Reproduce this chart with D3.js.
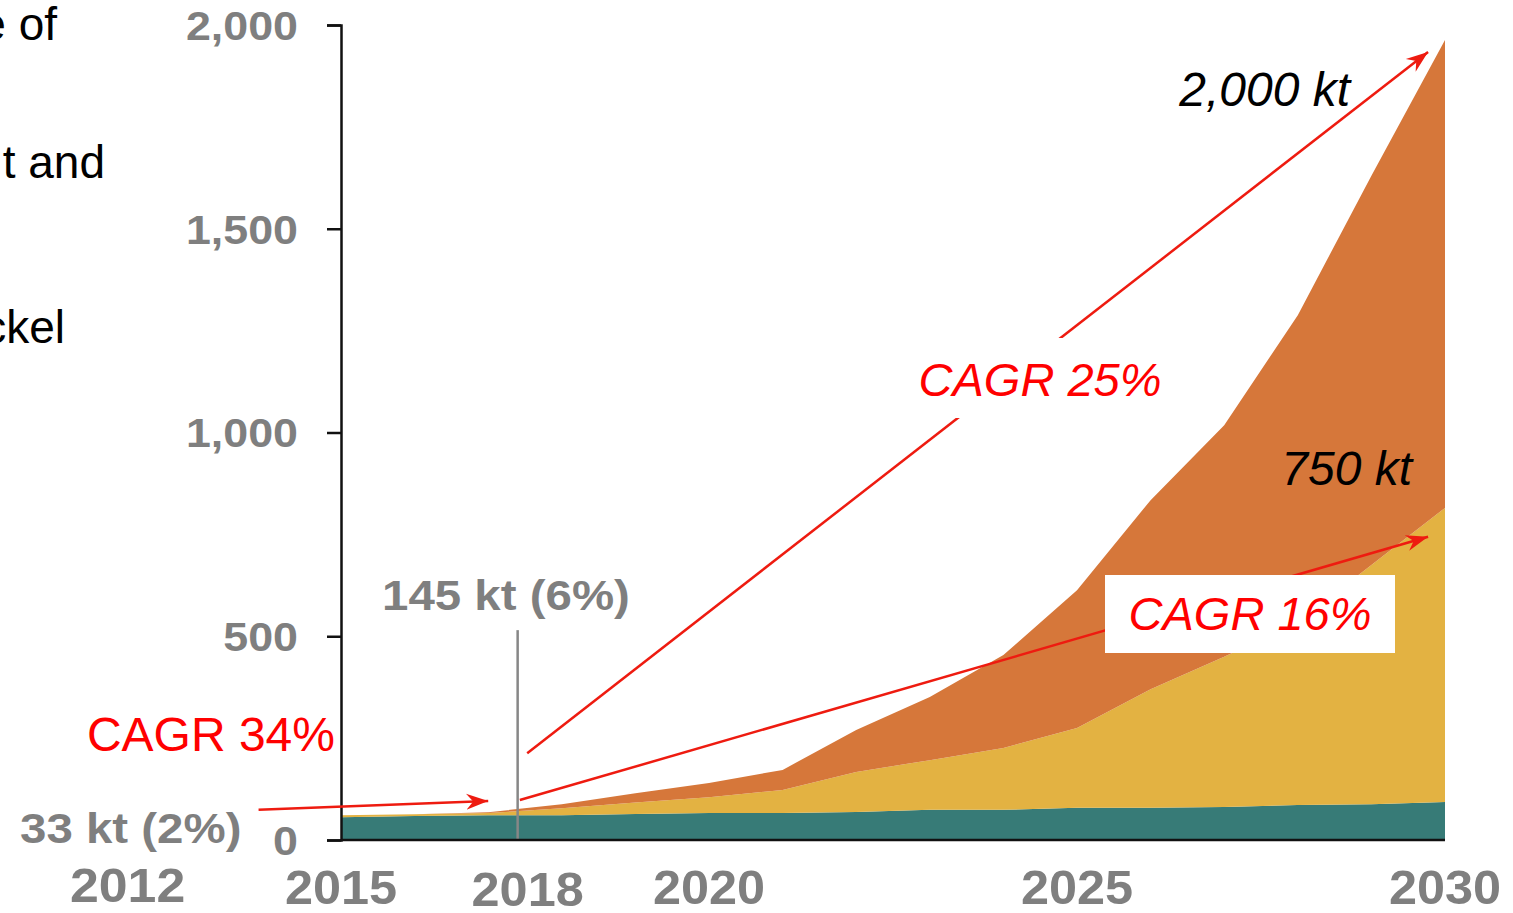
<!DOCTYPE html>
<html>
<head>
<meta charset="utf-8">
<script src="https://cdn.jsdelivr.net/npm/d3@7"></script>
<style>
  body { margin: 0; background: #fff; }
  svg { display: block; font-family: "Liberation Sans", Arial, sans-serif; }
</style>
</head>
<body>
<div id="chart"></div>
<script>
// data (kt)
var years  = [2015, 2016, 2017, 2018, 2019, 2020, 2021, 2022, 2023, 2024, 2025, 2026, 2027, 2028, 2029, 2030];
var teal   = [56, 59, 61, 61, 64, 66, 66, 69, 74, 74, 79, 79, 81, 86, 88, 93];
var yellow = [5, 4, 5, 17, 28, 39, 57, 98, 122, 152, 196, 291, 369, 449, 587, 722];
var orange = [0, 0, 2, 10, 23, 35, 49, 103, 155, 228, 338, 464, 568, 753, 955, 1148];
var yTicks = [0, 500, 1000, 1500, 2000];
var xTicks = [2015, 2020, 2025, 2030];
var markerYear = 2017.4;   // the "today" line labelled 2018

var W = 1513, H = 913;
var svg = d3.select("#chart").append("svg").attr("width", W).attr("height", H);

var x = d3.scaleLinear().domain([2015, 2030]).range([341, 1445]);
var y = d3.scaleLinear().domain([0, 2000]).range([840, 25]);

var table = years.map(function(yr, i) {
  return { year: yr, teal: teal[i], yellow: yellow[i], orange: orange[i] };
});
var series = d3.stack().keys(["teal", "yellow", "orange"])(table);
var colors = { teal: "#377b77", yellow: "#e3b242", orange: "#d6773a" };

var area = d3.area()
  .x(function(d) { return x(d.data.year); })
  .y0(function(d) { return y(d[0]); })
  .y1(function(d) { return y(d[1]); });

svg.append("g").selectAll("path").data(series).join("path")
  .attr("d", area)
  .attr("fill", function(s) { return colors[s.key]; });

// gray marker line
svg.append("line")
  .attr("x1", x(markerYear)).attr("x2", x(markerYear))
  .attr("y1", y(515)).attr("y2", y(0))
  .attr("stroke", "#878787").attr("stroke-width", 2.5);

// axes
var yAxis = svg.append("g").attr("transform", "translate(" + x(2015) + ",0)")
  .call(d3.axisLeft(y).tickValues(yTicks).tickFormat(d3.format(",")).tickSize(14).tickPadding(0));
yAxis.select(".domain").attr("stroke", "#111").attr("stroke-width", 2.5);
yAxis.selectAll(".tick line").attr("stroke", "#111").attr("stroke-width", 2.5);
yAxis.selectAll(".tick text")
  .attr("font-size", 40).attr("font-weight", "bold").attr("fill", "#7f7f7f")
  .attr("font-family", "Liberation Sans, Arial, sans-serif")
  .attr("transform", "scale(1.12,1)")
  .attr("x", -43 / 1.12).attr("dy", "0.36em");

svg.append("line")
  .attr("x1", x(2015)).attr("x2", x(2030))
  .attr("y1", y(0)).attr("y2", y(0))
  .attr("stroke", "#111").attr("stroke-width", 2.5);

function label(txt, px, py, o) {
  var t = svg.append("text")
    .attr("transform", "translate(" + px + "," + py + ") scale(" + (o.sx || 1) + ",1)")
    .attr("text-anchor", o.anchor || "start")
    .attr("font-size", o.size)
    .attr("font-weight", o.bold ? "bold" : "normal")
    .attr("font-style", o.italic ? "italic" : "normal")
    .attr("fill", o.color)
    .text(txt);
  return t;
}

// x tick labels
xTicks.forEach(function(v) {
  label(String(v), x(v), 904, { size: 48, bold: true, color: "#7f7f7f", anchor: "middle", sx: 1.05 });
});
label("2018", x(markerYear) + 10, 906, { size: 48, bold: true, color: "#7f7f7f", anchor: "middle", sx: 1.05 });
label("2012", x(2012.1), 902, { size: 48, bold: true, color: "#7f7f7f", anchor: "middle", sx: 1.08 });

// cut-off text at the left
label("e of", 57, 40, { size: 46, color: "#000", anchor: "end" });
label("t and", 105, 178, { size: 46, color: "#000", anchor: "end" });
label("ckel", 65, 343, { size: 46, color: "#000", anchor: "end" });

// red arrows
var red = "#ee1b10";
svg.append("defs").append("marker")
  .attr("id", "head").attr("viewBox", "-22 -9 24 18")
  .attr("refX", 0).attr("refY", 0)
  .attr("markerWidth", 24).attr("markerHeight", 18)
  .attr("markerUnits", "userSpaceOnUse").attr("orient", "auto")
  .append("path").attr("d", "M0,0 L-22,-8 L-15,0 L-22,8 Z").attr("fill", red);

var arrows = [
  [[2013.88, 74], [2017.0, 96]],
  [[2017.53, 213], [2029.77, 1934]],
  [[2017.43, 98], [2029.77, 744]]
];
svg.append("g").selectAll("line").data(arrows).join("line")
  .attr("x1", function(d) { return x(d[0][0]); })
  .attr("y1", function(d) { return y(d[0][1]); })
  .attr("x2", function(d) { return x(d[1][0]); })
  .attr("y2", function(d) { return y(d[1][1]); })
  .attr("stroke", red).attr("stroke-width", 2.5)
  .attr("marker-end", "url(#head)");

// label boxes
svg.append("rect").attr("x", 905).attr("y", 338).attr("width", 270).attr("height", 80).attr("fill", "#fff");
svg.append("rect").attr("x", 1105).attr("y", 575).attr("width", 290).attr("height", 78).attr("fill", "#fff");

label("CAGR 25%", 1040, 396, { size: 47, italic: true, color: "#ff0000", anchor: "middle" });
label("CAGR 16%", 1250, 630, { size: 47, italic: true, color: "#ff0000", anchor: "middle" });
label("CAGR 34%", 335, 751, { size: 48, color: "#ff0000", anchor: "end" });
label("2,000 kt", 1350, 106, { size: 48, italic: true, color: "#000", anchor: "end" });
label("750 kt", 1412, 485, { size: 48, italic: true, color: "#000", anchor: "end" });

label("145 kt (6%)", 382, 610, { size: 42, bold: true, color: "#7f7f7f", sx: 1.13 });
label("33 kt (2%)", 20, 843, { size: 42, bold: true, color: "#7f7f7f", sx: 1.13 });
</script>
</body>
</html>
